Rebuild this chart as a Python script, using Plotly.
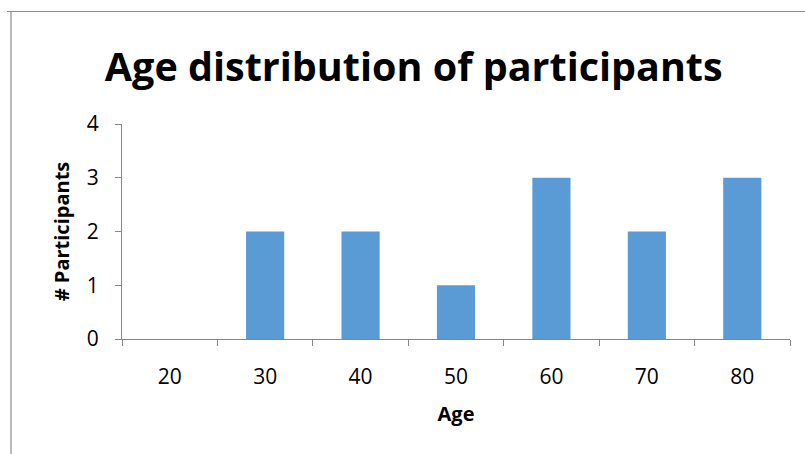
import plotly.graph_objects as go

ages = ["20", "30", "40", "50", "60", "70", "80"]
participants = [0, 2, 2, 1, 3, 2, 3]
y_ticks = [0, 1, 2, 3, 4]

W, H = 805, 454
L, R, T, B = 122, 15, 124, 115
pw, ph = W - L - R, H - T - B

def px_x(px):
    return (px - L) / pw

def px_y(py):
    return (H - B - py) / ph

fig = go.Figure(go.Bar(
    x=ages, y=participants,
    marker=dict(color="#5B9BD5", line=dict(width=0)),
    width=0.4,
))

axis_color = "#868686"
fig.update_layout(
    width=W, height=H,
    margin=dict(l=L, r=R, t=T, b=B),
    paper_bgcolor="white", plot_bgcolor="white",
    showlegend=False,
    title=dict(text="<b>Age distribution of participants</b>",
               x=0.514, xanchor="center", y=1 - 67 / H, yanchor="middle",
               font=dict(family="Open Sans", size=39.5, color="black")),
    xaxis=dict(
        type="category", showline=True, linecolor=axis_color, linewidth=1,
        ticks="outside", tickson="boundaries", ticklen=6, tickcolor=axis_color,
        showgrid=False, zeroline=False, ticklabelstandoff=19,
        tickfont=dict(family="Open Sans", size=21, color="black"),
        title=dict(text="<b>Age</b>", standoff=17,
                   font=dict(family="Open Sans", size=20, color="black")),
    ),
    yaxis=dict(
        range=[0, 4], tickvals=y_ticks, showline=True, linecolor=axis_color,
        linewidth=1, ticks="outside", ticklen=6, tickcolor=axis_color,
        showgrid=False, zeroline=False, ticklabelstandoff=12,
        tickfont=dict(family="Open Sans", size=21, color="black"),
        title=dict(text="<b># Participants</b>", standoff=11,
                   font=dict(family="Open Sans", size=20, color="black")),
    ),
)

frame_color = "#8C8C8C"
fig.add_shape(type="line", xref="paper", yref="paper",
              x0=px_x(7), x1=px_x(805), y0=px_y(11.5), y1=px_y(11.5),
              line=dict(color=frame_color, width=1.2))
fig.add_shape(type="line", xref="paper", yref="paper",
              x0=px_x(11), x1=px_x(11), y0=px_y(11.5), y1=px_y(454),
              line=dict(color=frame_color, width=1.2))

fig.write_html("out.html")
